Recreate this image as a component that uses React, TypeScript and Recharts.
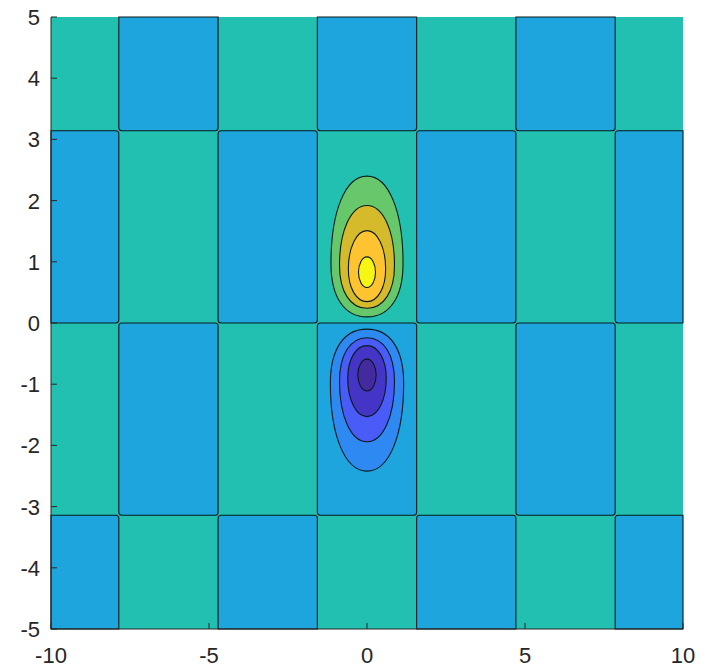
import React from "react";
import { ScatterChart, XAxis, YAxis, ReferenceArea } from "recharts";

// cell edges sit on odd multiples of pi/2 in x and multiples of pi in y
const X_EDGES = [-10, -7.854, -4.712, -1.571, 1.571, 4.712, 7.854, 10];
const Y_EDGES = [-5, -3.1416, 0, 3.1416, 5];
// 1 = low plateau (blue), 0 = high plateau (teal); rows from bottom to top
const BLUE_ROWS = [
  [1, 0, 1, 0, 1, 0, 1],
  [0, 1, 0, 1, 0, 1, 0],
  [1, 0, 1, 0, 1, 0, 1],
  [0, 1, 0, 1, 0, 1, 0],
];

// contour levels of the two lobes, outer to inner
const BLOB_X = 0;
const POS_TOP = [2.4, 1.92, 1.51, 1.08];
const POS_BOTTOM = [0.1, 0.24, 0.35, 0.58];
const POS_HALF = [1.14, 0.87, 0.59, 0.27];
const NEG_TOP = [-0.1, -0.24, -0.37, -0.59];
const NEG_BOTTOM = [-2.42, -1.94, -1.53, -1.11];
const NEG_HALF = [1.16, 0.87, 0.61, 0.29];

const X_TICKS = [-10, -5, 0, 5, 10];
const Y_TICKS = [-5, -4, -3, -2, -1, 0, 1, 2, 3, 4, 5];

const TEAL = "#21c0b0";
const BLUE = "#1ea5dd";
const POS_COLORS = ["#66c86a", "#d5ba2b", "#fec331", "#f6f514"];
const NEG_COLORS = ["#2e89f2", "#4a5cf7", "#4435c6", "#432b9f"];
// where the widest part sits (fraction from the end nearest y = 0) and how boxy each end is
const WIDE_AT = [0.38, 0.42, 0.46, 0.5];
const NEAR_K = [0.63, 0.61, 0.58, 0.55];
const FAR_K = [0.6, 0.58, 0.56, 0.55];

const INK = "#262626";
const LINE = "#0a1a1c";
const FONT = "'Liberation Sans', Arial, Helvetica, sans-serif";

function roundedRect(x: number, y: number, w: number, h: number, r: number[]) {
  const [tl, tr, br, bl] = r;
  return [
    `M${x + tl},${y}`,
    `L${x + w - tr},${y}`,
    `Q${x + w},${y} ${x + w},${y + tr}`,
    `L${x + w},${y + h - br}`,
    `Q${x + w},${y + h} ${x + w - br},${y + h}`,
    `L${x + bl},${y + h}`,
    `Q${x},${y + h} ${x},${y + h - bl}`,
    `L${x},${y + tl}`,
    `Q${x},${y} ${x + tl},${y}`,
    "Z",
  ].join(" ");
}

// egg shape: f = widest line as fraction of height from top
function egg(x: number, y: number, w: number, h: number, f: number, kTop: number, kBot: number) {
  const cx = x + w / 2;
  const rx = w / 2;
  const yw = y + f * h;
  const ht = f * h;
  const hb = (1 - f) * h;
  return [
    `M${x},${yw}`,
    `C${x},${yw - kTop * ht} ${cx - kTop * rx},${y} ${cx},${y}`,
    `C${cx + kTop * rx},${y} ${x + w},${yw - kTop * ht} ${x + w},${yw}`,
    `C${x + w},${yw + kBot * hb} ${cx + kBot * rx},${y + h} ${cx},${y + h}`,
    `C${cx - kBot * rx},${y + h} ${x},${yw + kBot * hb} ${x},${yw}`,
    "Z",
  ].join(" ");
}

const BottomTick = (props: any) => {
  const { x, y, payload } = props;
  return (
    <g>
      <line x1={x} y1={y} x2={x} y2={y - 6} stroke={INK} strokeWidth={1} />
      <text x={x} y={y + 34} textAnchor="middle" fill={INK} fontSize={22} fontFamily={FONT}>
        {payload.value}
      </text>
    </g>
  );
};

const LeftTick = (props: any) => {
  const { x, y, payload } = props;
  return (
    <g>
      <line x1={x} y1={y} x2={x + 6} y2={y} stroke={INK} strokeWidth={1} />
      <text x={x - 11} y={y + 8} textAnchor="end" fill={INK} fontSize={22} fontFamily={FONT}>
        {payload.value}
      </text>
    </g>
  );
};

const TopTick = (props: any) => {
  const { x, y } = props;
  return <line x1={x} y1={y} x2={x} y2={y + 6} stroke={INK} strokeWidth={1} />;
};

const RightTick = (props: any) => {
  const { x, y } = props;
  return <line x1={x} y1={y} x2={x - 6} y2={y} stroke={INK} strokeWidth={1} />;
};

export default function App() {
  const cells: React.ReactNode[] = [];
  BLUE_ROWS.forEach((row, j) => {
    row.forEach((isBlue, i) => {
      if (!isBlue) return;
      const left = i > 0;
      const right = i < row.length - 1;
      const bottom = j > 0;
      const top = j < BLUE_ROWS.length - 1;
      const rad = 3;
      const r = [
        left && top ? rad : 0,
        right && top ? rad : 0,
        right && bottom ? rad : 0,
        left && bottom ? rad : 0,
      ];
      cells.push(
        <ReferenceArea
          key={`c-${i}-${j}`}
          x1={X_EDGES[i]}
          x2={X_EDGES[i + 1]}
          y1={Y_EDGES[j]}
          y2={Y_EDGES[j + 1]}
          ifOverflow="visible"
          shape={(p: any) => (
            <path
              d={roundedRect(p.x, p.y, p.width, p.height, r)}
              fill={BLUE}
              stroke={LINE}
              strokeWidth={1.1}
            />
          )}
        />
      );
    });
  });

  const blobs: React.ReactNode[] = [];
  POS_TOP.forEach((t, k) => {
    blobs.push(
      <ReferenceArea
        key={`p-${k}`}
        x1={BLOB_X - POS_HALF[k]}
        x2={BLOB_X + POS_HALF[k]}
        y1={POS_BOTTOM[k]}
        y2={t}
        ifOverflow="visible"
        shape={(p: any) => (
          <path
            d={egg(p.x, p.y, p.width, p.height, 1 - WIDE_AT[k], FAR_K[k], NEAR_K[k])}
            fill={POS_COLORS[k]}
            stroke={LINE}
            strokeWidth={1.1}
          />
        )}
      />
    );
  });
  NEG_TOP.forEach((t, k) => {
    blobs.push(
      <ReferenceArea
        key={`n-${k}`}
        x1={BLOB_X - NEG_HALF[k]}
        x2={BLOB_X + NEG_HALF[k]}
        y1={NEG_BOTTOM[k]}
        y2={t}
        ifOverflow="visible"
        shape={(p: any) => (
          <path
            d={egg(p.x, p.y, p.width, p.height, WIDE_AT[k], NEAR_K[k], FAR_K[k])}
            fill={NEG_COLORS[k]}
            stroke={LINE}
            strokeWidth={1.1}
          />
        )}
      />
    );
  });

  return (
    <ScatterChart
      width={689}
      height={663}
      margin={{ top: 9, right: 14, bottom: 12, left: 3 }}
      style={{ overflow: "visible" }}
    >
      <ReferenceArea x1={-10} x2={10} y1={-5} y2={5} fill={TEAL} fillOpacity={1} stroke="none" ifOverflow="visible" />
      {cells}
      {blobs}
      <XAxis
        type="number"
        dataKey="x"
        domain={[-10, 10]}
        ticks={X_TICKS}
        allowDataOverflow
        height={30}
        tickSize={0}
        tickMargin={0}
        tickLine={false}
        axisLine={{ stroke: INK, strokeWidth: 1 }}
        tick={<BottomTick />}
        interval={0}
      />
      <XAxis
        xAxisId="top"
        orientation="top"
        type="number"
        dataKey="x"
        domain={[-10, 10]}
        ticks={X_TICKS}
        allowDataOverflow
        height={0}
        tickSize={0}
        tickMargin={0}
        tickLine={false}
        axisLine={{ stroke: INK, strokeWidth: 1 }}
        tick={<TopTick />}
        interval={0}
      />
      <YAxis
        type="number"
        dataKey="y"
        domain={[-5, 5]}
        ticks={Y_TICKS}
        allowDataOverflow
        width={40}
        tickSize={0}
        tickMargin={0}
        tickLine={false}
        axisLine={{ stroke: INK, strokeWidth: 1 }}
        tick={<LeftTick />}
        interval={0}
      />
      <YAxis
        yAxisId="right"
        orientation="right"
        type="number"
        dataKey="y"
        domain={[-5, 5]}
        ticks={Y_TICKS}
        allowDataOverflow
        width={0}
        tickSize={0}
        tickMargin={0}
        tickLine={false}
        axisLine={{ stroke: INK, strokeWidth: 1 }}
        tick={<RightTick />}
        interval={0}
      />
    </ScatterChart>
  );
}
